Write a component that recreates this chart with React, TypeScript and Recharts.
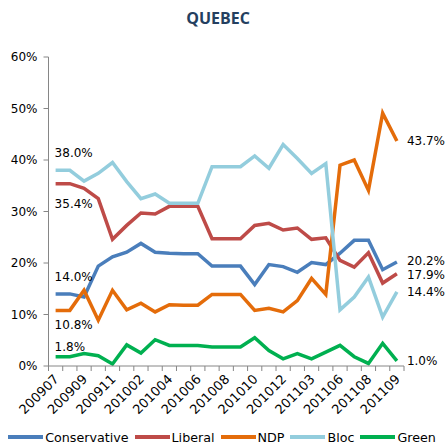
import { LineChart, Line, XAxis, YAxis, Legend, LabelList } from "recharts";

const CATEGORIES = [
  "200907", "200908", "200909", "200910", "200911", "200912", "201002", "201003",
  "201004", "201005", "201006", "201007", "201008", "201009", "201010", "201011",
  "201012", "201102", "201103", "201105", "201106", "201107", "201108", "201109",
  "201109",
];

const CONSERVATIVE = [14.0, 14.0, 13.4, 19.4, 21.2, 22.1, 23.8, 22.1, 21.9, 21.8, 21.8, 19.4, 19.4, 19.4, 15.8, 19.7, 19.3, 18.2, 20.1, 19.7, 21.9, 24.4, 24.4, 18.7, 20.2];
const LIBERAL = [35.4, 35.4, 34.5, 32.5, 24.6, 27.3, 29.7, 29.5, 31.0, 31.0, 31.0, 24.7, 24.7, 24.7, 27.3, 27.7, 26.4, 26.8, 24.6, 24.9, 20.5, 19.2, 22.0, 16.1, 17.9];
const NDP = [10.8, 10.8, 14.7, 8.9, 14.7, 10.9, 12.2, 10.5, 11.9, 11.8, 11.8, 13.9, 13.9, 13.9, 10.8, 11.2, 10.5, 12.7, 17.0, 13.9, 39.0, 40.0, 34.1, 49.1, 43.7];
const BLOC = [38.0, 38.0, 35.9, 37.4, 39.5, 35.8, 32.5, 33.4, 31.6, 31.6, 31.6, 38.7, 38.7, 38.7, 40.8, 38.4, 43.0, 40.3, 37.4, 39.3, 10.9, 13.4, 17.3, 9.5, 14.4];
const GREEN = [1.8, 1.8, 2.4, 2.0, 0.4, 4.1, 2.5, 5.1, 4.0, 4.0, 4.0, 3.7, 3.7, 3.7, 5.5, 3.0, 1.4, 2.4, 1.4, 2.7, 4.0, 1.8, 0.5, 4.4, 1.0];

const Y_TICKS = [0, 10, 20, 30, 40, 50, 60];

const data = CATEGORIES.map((cat, i) => ({
  cat,
  Conservative: CONSERVATIVE[i],
  Liberal: LIBERAL[i],
  NDP: NDP[i],
  Bloc: BLOC[i],
  Green: GREEN[i],
}));

// series styling + where the end labels sit (dy from the point)
const SERIES = [
  { key: "Conservative", color: "#4A7EBB", firstDy: -17, lastDy: -1 },
  { key: "Liberal", color: "#BE4B48", firstDy: 20, lastDy: 1 },
  { key: "NDP", color: "#E46C0A", firstDy: 15, lastDy: 0 },
  { key: "Bloc", color: "#93CDDD", firstDy: -17, lastDy: 0 },
  { key: "Green", color: "#00B050", firstDy: -10, lastDy: 0 },
];

const W = 448;
const H = 445;
const MARGIN = { top: 57, right: 44, left: 0, bottom: 8 };
const Y_WIDTH = 48.5;
const STEP = (W - Y_WIDTH - MARGIN.right) / CATEGORIES.length;
const AXIS = "#868686";
const FONT = "'DejaVu Sans', Verdana, sans-serif";
const LAST = CATEGORIES.length - 1;

const XTick = ({ x, y, payload, index }: any) => {
  const ax = x + 4;
  const ay = y + 14;
  return (
    <g>
      <line x1={x - STEP / 2} x2={x - STEP / 2} y1={y} y2={y + 5} stroke={AXIS} />
      {index === LAST && (
        <line x1={x + STEP / 2} x2={x + STEP / 2} y1={y} y2={y + 5} stroke={AXIS} />
      )}
      {index % 2 === 0 && (
        <text
          x={ax}
          y={ay}
          textAnchor="end"
          transform={`rotate(-45 ${ax} ${ay})`}
          fontSize={13}
          fontFamily={FONT}
          fill="#000"
        >
          {payload.value}
        </text>
      )}
    </g>
  );
};

const makeLabel = (firstDy: number, lastDy: number) => (props: any) => {
  const { x, y, value, index } = props;
  const txt = `${Number(value).toFixed(1)}%`;
  if (index === 0) {
    return (
      <text x={x - 1} y={y + firstDy} dominantBaseline="central" fontSize={12} fontFamily={FONT} fill="#000">
        {txt}
      </text>
    );
  }
  if (index === LAST) {
    return (
      <text x={x + 10} y={y + lastDy} dominantBaseline="central" fontSize={12} fontFamily={FONT} fill="#000">
        {txt}
      </text>
    );
  }
  return null;
};

const LegendContent = () => (
  <div
    style={{
      display: "flex",
      justifyContent: "center",
      alignItems: "center",
      height: 16,
      gap: 6,
      fontFamily: FONT,
      fontSize: 12.7,
      color: "#000",
    }}
  >
    {SERIES.map((s) => (
      <div key={s.key} style={{ display: "flex", alignItems: "center" }}>
        <span style={{ display: "inline-block", width: 35, height: 4, background: s.color, marginRight: 2 }} />
        <span>{s.key}</span>
      </div>
    ))}
  </div>
);

export default function App() {
  return (
    <div style={{ position: "absolute", left: 0, top: 0, width: W, height: H, background: "#fff" }}>
      <div
        style={{
          position: "absolute",
          left: 0,
          top: 7,
          width: 436,
          textAlign: "center",
          fontFamily: "'Open Sans', sans-serif",
          fontWeight: 700,
          fontSize: 16,
          color: "#243F60",
          lineHeight: "22px",
        }}
      >
        QUEBEC
      </div>
      <LineChart width={W} height={H} data={data} margin={MARGIN}>
        <XAxis
          dataKey="cat"
          interval={0}
          tick={<XTick />}
          tickLine={false}
          tickSize={0}
          tickMargin={0}
          height={55}
          axisLine={{ stroke: AXIS }}
          padding={{ left: STEP / 2, right: STEP / 2 }}
        />
        <YAxis
          width={Y_WIDTH}
          domain={[0, 60]}
          ticks={Y_TICKS}
          tickFormatter={(v) => `${v}%`}
          axisLine={{ stroke: AXIS }}
          tickLine={{ stroke: AXIS }}
          tickSize={5}
          tickMargin={6}
          tick={{ fontSize: 12, fontFamily: FONT, fill: "#000" }}
        />
        <Legend
          verticalAlign="bottom"
          content={<LegendContent />}
          wrapperStyle={{ bottom: 0, left: 0, width: 444 }}
        />
        {SERIES.map((s) => (
          <Line
            key={s.key}
            dataKey={s.key}
            stroke={s.color}
            strokeWidth={3.5}
            dot={false}
            activeDot={false}
            isAnimationActive={false}
          >
            <LabelList dataKey={s.key} content={makeLabel(s.firstDy, s.lastDy)} />
          </Line>
        ))}
      </LineChart>
    </div>
  );
}
